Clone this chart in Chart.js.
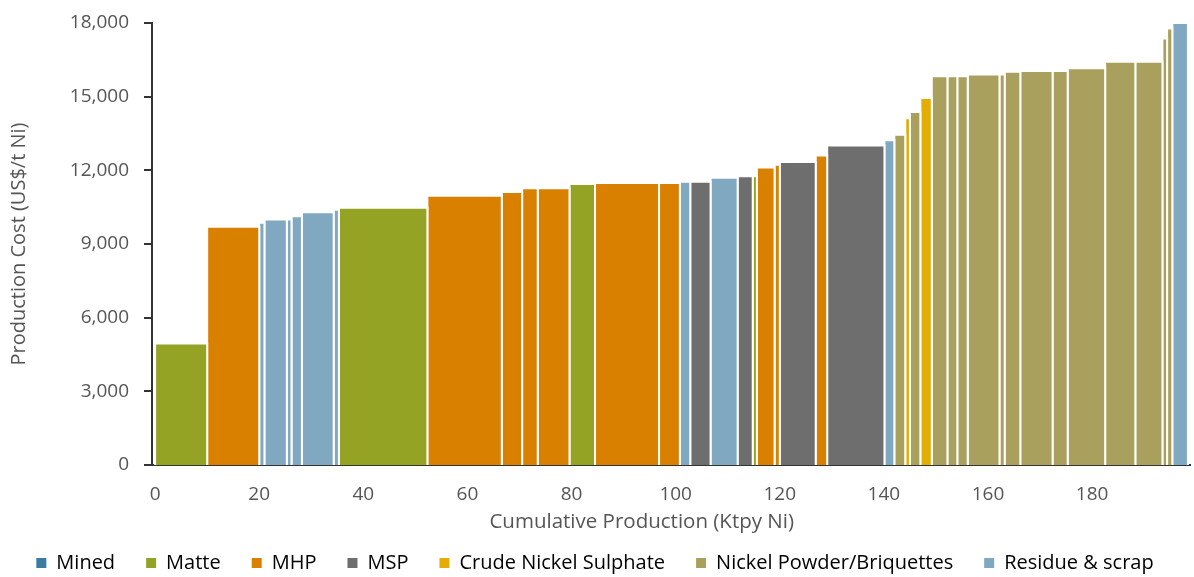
<!DOCTYPE html>
<html>
<head>
<meta charset="utf-8">
<script src="https://cdn.jsdelivr.net/npm/chart.js@4/dist/chart.umd.min.js"></script>
<style>
  html, body { margin: 0; padding: 0; background: #fff; }
  #wrap { width: 1194px; height: 577px; }
</style>
</head>
<body>
<div id="wrap"><canvas id="costCurve"></canvas></div>
<script>
// Legend categories (product types)
const categories = ['Mined', 'Matte', 'MHP', 'MSP', 'Crude Nickel Sulphate', 'Nickel Powder/Briquettes', 'Residue & scrap'];

// One entry per asset, in cost order
const assetProduct = [
  'Matte', 'MHP', 'Residue & scrap', 'Residue & scrap', 'Residue & scrap', 'Residue & scrap', 'Residue & scrap', 'Residue & scrap',
  'Matte', 'MHP', 'MHP', 'MHP', 'MHP', 'Matte', 'MHP', 'MHP',
  'Residue & scrap', 'MSP', 'Residue & scrap', 'MSP', 'Matte', 'MHP', 'MHP', 'MSP',
  'MHP', 'MSP', 'Residue & scrap', 'Nickel Powder/Briquettes', 'Crude Nickel Sulphate', 'Nickel Powder/Briquettes', 'Crude Nickel Sulphate', 'Nickel Powder/Briquettes',
  'Nickel Powder/Briquettes', 'Nickel Powder/Briquettes', 'Nickel Powder/Briquettes', 'Nickel Powder/Briquettes', 'Nickel Powder/Briquettes', 'Nickel Powder/Briquettes', 'Nickel Powder/Briquettes', 'Nickel Powder/Briquettes',
  'Nickel Powder/Briquettes', 'Nickel Powder/Briquettes', 'Nickel Powder/Briquettes', 'Nickel Powder/Briquettes', 'Residue & scrap'
];
// Production of each asset (Ktpy Ni) - bar widths
const assetProduction = [
  10, 10, 1, 4.3, 0.9, 2, 6.1, 1,
  17, 14.3, 3.9, 3, 6.1, 4.9, 12.3, 4,
  2, 3.9, 5.2, 2.9, 0.8, 3.4, 1, 6.9,
  2.2, 11, 1.9, 2.1, 0.9, 2, 2.2, 3,
  1.9, 2, 6.1, 1, 3, 6.2, 2.9, 7.2,
  5.8, 5.2, 0.9, 1, 3
];
// Production cost of each asset (US$/t Ni) - bar heights
const assetCost = [
  4950, 9700, 9870, 10000, 10000, 10130, 10290, 10390,
  10480, 10960, 11120, 11270, 11270, 11440, 11480, 11480,
  11540, 11540, 11700, 11760, 11760, 12120, 12230, 12340,
  12600, 13010, 13230, 13450, 14120, 14380, 14950, 15830,
  15830, 15830, 15900, 15900, 16010, 16050, 16050, 16160,
  16420, 16420, 17370, 17780, 18000
];

const xTickValues = [0, 20, 40, 60, 80, 100, 120, 140, 160, 180];
const yTickValues = [0, 3000, 6000, 9000, 12000, 15000, 18000];

const productColors = {
  'Mined': '#3b7ca3',
  'Matte': '#95a325',
  'MHP': '#da8000',
  'MSP': '#6e6e6e',
  'Crude Nickel Sulphate': '#e4ad06',
  'Nickel Powder/Briquettes': '#a8a05c',
  'Residue & scrap': '#80a8c1'
};

const textColor = '#555555';
const axisColor = '#333333';
const fontFamily = "'Open Sans', 'Noto Sans', sans-serif";

// each asset becomes a filled step (rectangle) on the linear x scale
let cum = 0;
const datasets = assetProduction.map((w, i) => {
  const x0 = cum;
  cum += w;
  const x1 = cum;
  return {
    label: assetProduct[i],
    data: [
      { x: x0, y: 0 },
      { x: x0, y: assetCost[i] },
      { x: x1, y: assetCost[i] },
      { x: x1, y: 0 }
    ],
    backgroundColor: productColors[assetProduct[i]],
    borderColor: '#ffffff',
    borderWidth: 2,
    pointRadius: 0,
    tension: 0,
    fill: 'origin'
  };
});

new Chart(document.getElementById('costCurve'), {
  type: 'line',
  data: { datasets },
  options: {
    responsive: true,
    maintainAspectRatio: false,
    animation: false,
    layout: { padding: { left: 0, right: 4, top: 23, bottom: -6 } },
    plugins: {
      tooltip: { enabled: false },
      legend: {
        position: 'bottom',
        onClick: null,
        labels: {
          color: textColor,
          font: { family: fontFamily, size: 20 },
          boxWidth: 10,
          boxHeight: 10,
          padding: 31,
          generateLabels: () => categories.map(c => ({
            text: c,
            fillStyle: productColors[c],
            strokeStyle: productColors[c],
            lineWidth: 0,
            hidden: false
          }))
        }
      }
    },
    scales: {
      x: {
        type: 'linear',
        min: -0.6,
        max: 198.8,
        z: 1,
        afterBuildTicks: s => { s.ticks = xTickValues.map(v => ({ value: v })); },
        afterFit: s => { s.height = 57; },
        grid: { display: false, drawTicks: false },
        border: { display: true, color: axisColor, width: 2 },
        ticks: {
          color: textColor,
          font: { family: fontFamily, size: 19 },
          padding: 18,
          maxRotation: 0
        },
        title: {
          display: true,
          text: 'Cumulative Production (Ktpy Ni)\u00a0\u00a0\u00a0\u00a0\u00a0\u00a0\u00a0\u00a0\u00a0\u00a0\u00a0',
          color: textColor,
          font: { family: fontFamily, size: 20.5 },
          padding: { top: 0, bottom: -12 }
        }
      },
      y: {
        min: 0,
        max: 18000,
        z: 1,
        afterBuildTicks: s => { s.ticks = yTickValues.map(v => ({ value: v })); },
        afterFit: s => { s.width = 152; },
        grid: {
          display: true,
          drawOnChartArea: false,
          drawTicks: true,
          tickLength: 8,
          color: axisColor,
          lineWidth: 2
        },
        border: { display: true, color: axisColor, width: 2 },
        ticks: {
          color: textColor,
          font: { family: fontFamily, size: 19, lineHeight: 0.4 },
          padding: 15
        },
        title: {
          display: true,
          text: 'Production Cost (US$/t Ni)',
          color: textColor,
          font: { family: fontFamily, size: 20 },
          padding: { top: 7, bottom: 0 }
        }
      }
    }
  }
});
</script>
</body>
</html>
